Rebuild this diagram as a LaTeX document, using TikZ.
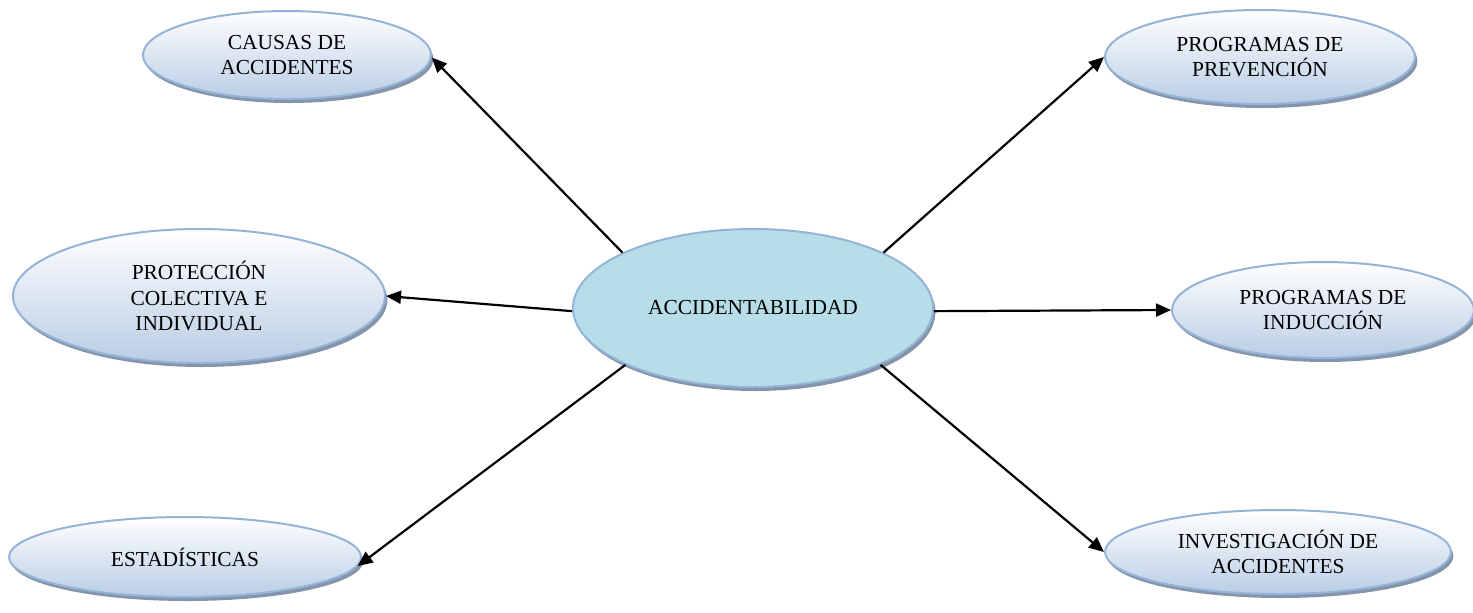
\documentclass[tikz,border=0pt]{standalone}
\usepackage{fontspec}
\setmainfont{Liberation Serif}
\usetikzlibrary{shapes.geometric,arrows.meta,shadows}
\definecolor{rim}{HTML}{95B3D7}
\definecolor{paleblue}{HTML}{B9CDE5}
\definecolor{hubfill}{HTML}{B7DDE8}
\definecolor{shadowgray}{HTML}{8494AA}

\begin{document}
\begin{tikzpicture}[x=0.5pt,y=-0.5pt,
  bubble/.style={ellipse, draw=rim, line width=1pt, inner sep=0pt, align=center,
    font=\fontsize{10.7}{12.6}\selectfont,
    drop shadow={shadow xshift=1.2pt, shadow yshift=-2pt, fill=shadowgray, opacity=1}},
  topic/.style={bubble, top color=white, bottom color=paleblue},
  hub/.style={bubble, fill=hubfill},
  link/.style={line width=1.1pt, -{Triangle[length=7.5pt,width=6.5pt]}}]
\useasboundingbox (0,0) rectangle (1473,612);

% central concept
\node[hub, minimum width=180pt, minimum height=79pt] (acc) at (753,308) {ACCIDENTABILIDAD};

% surrounding topics
\node[topic, minimum width=144pt, minimum height=44pt] (causas) at (287,55) {CAUSAS DE\\ACCIDENTES};
\node[topic, minimum width=155pt, minimum height=47pt] (prev) at (1260,57) {PROGRAMAS DE\\PREVENCIÓN};
\node[topic, minimum width=186pt, minimum height=67pt] (prot) at (199,296) {PROTECCIÓN\\COLECTIVA E\\INDIVIDUAL};
\node[topic, minimum width=151pt, minimum height=48pt] (ind) at (1323,310) {PROGRAMAS DE\\INDUCCIÓN};
\node[topic, minimum width=176pt, minimum height=40pt] (est) at (185,557) {ESTADÍSTICAS};
\node[topic, minimum width=173pt, minimum height=42pt] (inv) at (1278,552) {INVESTIGACIÓN DE\\ACCIDENTES};

% connectors
\draw[link] (acc.157) -- (causas.-1);
\draw[link] (acc.23) -- (prev.west);
\draw[link] (acc.181) -- (prot.east);
\draw[link] (acc.359) -- (ind.west);
\draw[link] (acc.204) -- (est.-3);
\draw[link] (acc.336) -- (inv.west);
\end{tikzpicture}
\end{document}
